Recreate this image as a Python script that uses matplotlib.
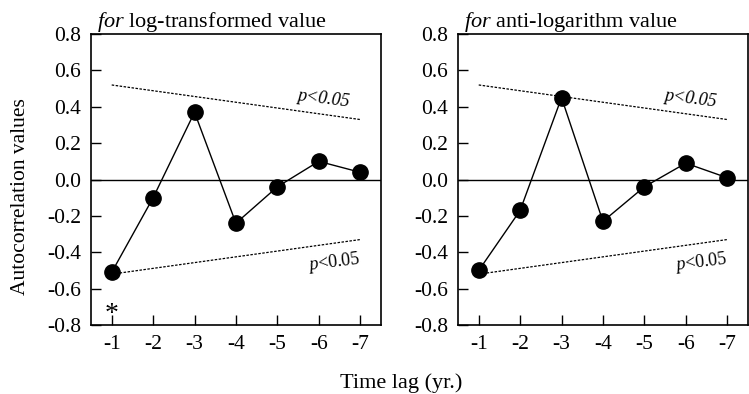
import numpy as np
import matplotlib.pyplot as plt

plt.rcParams['font.family'] = ['Liberation Serif', 'DejaVu Serif']
plt.rcParams['mathtext.fontset'] = 'custom'
plt.rcParams['mathtext.rm'] = 'Liberation Serif'
plt.rcParams['mathtext.it'] = 'Liberation Serif:italic'

# lags 1..7 (shown as -1..-7)
lags = [1, 2, 3, 4, 5, 6, 7]
lag_labels = ['-1', '-2', '-3', '-4', '-5', '-6', '-7']
acf_log = [-0.51, -0.10, 0.37, -0.24, -0.04, 0.10, 0.04]
acf_anti = [-0.50, -0.17, 0.45, -0.23, -0.04, 0.09, 0.01]

# significance bounds (end points)
bound_lags = [1, 7]
upper_bound = [0.52, 0.33]
lower_bound = [-0.52, -0.33]

yticks = [-0.8, -0.6, -0.4, -0.2, 0.0, 0.2, 0.4, 0.6, 0.8]

fig = plt.figure(figsize=(7.49, 3.94), dpi=100)
ax1 = fig.add_axes([0.1215, 0.175, 0.387, 0.7386])
ax2 = fig.add_axes([0.6115, 0.175, 0.387, 0.7386])

panels = [(ax1, acf_log, 'log-transformed value'),
          (ax2, acf_anti, 'anti-logarithm value')]

for ax, vals, name in panels:
    ax.axhline(0, color='black', lw=1)
    ax.plot(bound_lags, upper_bound, color='black', lw=0.9, ls=(0, (2, 1.2)))
    ax.plot(bound_lags, lower_bound, color='black', lw=0.9, ls=(0, (2, 1.2)))
    ax.plot(lags, vals, color='black', lw=1, marker='o', markersize=11,
            zorder=3)
    ax.set_xlim(0.5, 7.5)
    ax.set_ylim(-0.8, 0.8)
    ax.set_xticks(lags)
    ax.set_xticklabels(lag_labels)
    ax.set_yticks(yticks)
    ax.set_yticklabels(['%.1f' % t for t in yticks])
    ax.tick_params(direction='in', length=7, width=1, labelsize=15.5,
                   top=False, right=False, pad=7)
    for s in ax.spines.values():
        s.set_linewidth(1.2)
    ax.set_title(r'$\mathit{for}$ ' + name, loc='left', fontsize=16,
                 pad=5, x=0.02)
    ax.text(5.45, 0.445, 'p<0.05', fontsize=13, style='italic', rotation=-7,
            ha='left', va='center')
    ax.text(5.7, -0.455, r'$\mathit{p}$<0.05', fontsize=13, rotation=7,
            ha='left', va='center')

ax1.text(1, -0.78, '*', fontsize=20, ha='center', va='baseline')

fig.text(0.028, 0.5, 'Autocorrelation values', rotation=90, fontsize=15.5,
         ha='center', va='center')
fig.text(0.535, 0.028, 'Time lag (yr.)', fontsize=16, ha='center',
         va='center')

fig.savefig('out.png', dpi=100)
